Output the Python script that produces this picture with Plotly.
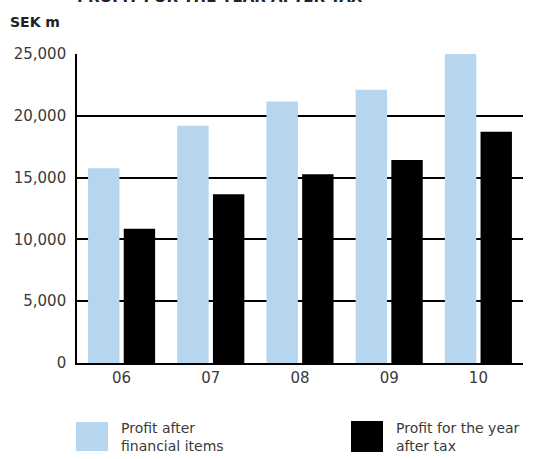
import plotly.graph_objects as go

years = ["06", "07", "08", "09", "10"]
profit_after_fin = [15750, 19200, 21150, 22100, 25000]
profit_after_tax = [10870, 13650, 15270, 16420, 18700]
y_ticks = [0, 5000, 10000, 15000, 20000, 25000]

light = "#b6d5ee"
dark = "#000000"
txt = "#3a3a3a"
font = "DejaVu Sans"

fig = go.Figure()
fig.add_trace(go.Bar(x=years, y=profit_after_fin, name="Profit after financial items",
                     marker=dict(color=light, line=dict(width=0)), showlegend=False))
fig.add_trace(go.Bar(x=years, y=profit_after_tax, name="Profit for the year after tax",
                     marker=dict(color=dark, line=dict(width=0)), showlegend=False))

W, H = 547, 459
L, R, T, B = 77, 24, 54, 96
pw, ph = W - L - R, H - T - B

def px_x(p):
    return (p - L) / pw

def px_y(p):
    return (H - B - p) / ph

fig.update_layout(
    width=W, height=H,
    margin=dict(l=L, r=R, t=T, b=B),
    plot_bgcolor="white", paper_bgcolor="white",
    barmode="group", bargap=0.2, bargroupgap=0.12,
    font=dict(family=font, color=txt, size=14),
    xaxis=dict(showgrid=False, showline=True, linecolor="black", linewidth=1.6,
               ticks="", tickfont=dict(size=15, color=txt)),
    yaxis=dict(range=[0, 25000], tickvals=y_ticks, tickformat=",",
               showgrid=True, gridcolor="black", gridwidth=1.5,
               showline=True, linecolor="black", linewidth=1.6,
               zeroline=False, ticks="", ticklabelstandoff=6,
               tickfont=dict(size=15, color=txt)),
)

# legend swatches and labels
shapes = [
    dict(type="rect", xref="paper", yref="paper", x0=px_x(76), x1=px_x(108),
         y0=px_y(451), y1=px_y(422), fillcolor=light, line=dict(width=0)),
    dict(type="rect", xref="paper", yref="paper", x0=px_x(351), x1=px_x(383),
         y0=px_y(452), y1=px_y(421), fillcolor=dark, line=dict(width=0)),
]
fig.update_layout(shapes=shapes)

fig.add_annotation(xref="paper", yref="paper", x=px_x(119), y=px_y(437),
                   xanchor="left", yanchor="middle", align="left", showarrow=False,
                   text="Profit after<br>financial items", font=dict(size=14, color=txt))
fig.add_annotation(xref="paper", yref="paper", x=px_x(394), y=px_y(437),
                   xanchor="left", yanchor="middle", align="left", showarrow=False,
                   text="Profit for the year<br>after tax", font=dict(size=14, color=txt))
fig.add_annotation(xref="paper", yref="paper", x=px_x(8), y=px_y(22),
                   xanchor="left", yanchor="middle", showarrow=False,
                   text="<b>SEK m</b>", font=dict(size=14, color="#222"))
fig.add_annotation(xref="paper", yref="paper", x=px_x(75), y=px_y(7.5),
                   xanchor="left", yanchor="bottom", showarrow=False,
                   text="<b>PROFIT FOR THE YEAR AFTER TAX</b>", font=dict(size=15, color="#222"))

fig.write_html("out.html", config={"displayModeBar": False},
               post_script="document.body.style.margin='0';document.body.style.overflow='hidden';")
